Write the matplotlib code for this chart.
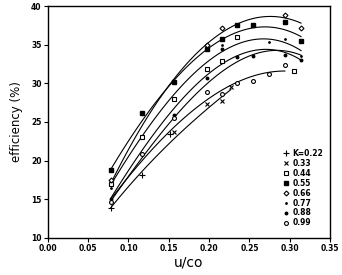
import numpy as np
import matplotlib
matplotlib.use("Agg")
import matplotlib.pyplot as plt

plt.rcParams['font.family'] = ['Liberation Sans Narrow', 'DejaVu Sans']

# measured points per K value (u/co, efficiency %)
x022 = [0.078, 0.117, 0.151]
y022 = [13.9, 18.1, 23.4]
x033 = [0.157, 0.197, 0.216, 0.227]
y033 = [23.7, 27.3, 27.7, 29.5]
x044 = [0.078, 0.117, 0.157, 0.197, 0.216, 0.235, 0.305]
y044 = [17.0, 23.0, 28.0, 31.9, 32.9, 36.0, 31.6]
x055 = [0.078, 0.117, 0.157, 0.197, 0.216, 0.235, 0.255, 0.294, 0.314]
y055 = [18.8, 26.2, 30.2, 34.4, 35.8, 37.5, 37.6, 38.0, 35.5]
x066 = [0.078, 0.197, 0.216, 0.294, 0.314]
y066 = [17.5, 35.0, 37.1, 38.8, 37.1]
x077 = [0.078, 0.216, 0.274, 0.294, 0.314]
y077 = [16.5, 35.0, 35.4, 35.7, 33.6]
x088 = [0.078, 0.157, 0.197, 0.216, 0.235, 0.255, 0.294, 0.314]
y088 = [15.0, 25.9, 30.7, 34.4, 33.4, 33.5, 33.7, 33.0]
x099 = [0.078, 0.117, 0.157, 0.197, 0.216, 0.235, 0.255, 0.274, 0.294]
y099 = [14.6, 20.8, 25.5, 28.9, 28.6, 30.0, 30.3, 31.2, 32.4]

# fitted curves, read as sample points along each line
cx1 = [0.078, 0.117, 0.157, 0.197, 0.235, 0.274, 0.314]
cy1 = [17.0, 24.6, 30.6, 35.0, 37.8, 38.6, 37.8]   # top
cy2 = [18.8, 25.3, 30.4, 34.3, 36.6, 37.4, 36.0]
cy3 = [16.8, 23.3, 28.6, 32.6, 35.1, 35.8, 34.2]
cy4 = [15.1, 21.4, 26.8, 31.0, 33.6, 34.4, 33.0]
cy5 = [14.7, 20.5, 25.6, 29.8, 32.8, 34.3, 33.6]
cx6 = [0.078, 0.117, 0.157, 0.197, 0.235, 0.274, 0.294]
cy6 = [15.0, 20.0, 24.4, 27.8, 30.2, 31.4, 31.6]
cx7 = [0.078, 0.117, 0.157, 0.197, 0.227]
cy7 = [13.9, 18.6, 22.9, 26.6, 29.2]

legend_labels = ['K=0.22', '0.33', '0.44', '0.55', '0.66', '0.77', '0.88', '0.99']

fig = plt.figure(figsize=(3.42, 2.75), dpi=100)
ax = fig.add_axes([0.140, 0.135, 0.825, 0.843])

for cx, cy in [(cx1, cy1), (cx1, cy2), (cx1, cy3), (cx1, cy4), (cx1, cy5), (cx6, cy6), (cx7, cy7)]:
    p = np.polyfit(cx, cy, 3)
    xs = np.linspace(cx[0], cx[-1], 100)
    ax.plot(xs, np.polyval(p, xs), color='black', lw=0.8)

k = dict(color='black', linestyle='none')
h = []
h += ax.plot(x022, y022, marker='+', ms=4, mew=0.8, **k)
h += ax.plot(x033, y033, marker='x', ms=3, mew=0.8, **k)
h += ax.plot(x044, y044, marker='s', ms=3.5, mfc='white', mew=0.8, **k)
h += ax.plot(x055, y055, marker='s', ms=3.5, **k)
h += ax.plot(x066, y066, marker='D', ms=2.5, mfc='white', mew=0.8, **k)
h += ax.plot(x077, y077, marker='.', ms=2, **k)
h += ax.plot(x088, y088, marker='o', ms=1.8, **k)
h += ax.plot(x099, y099, marker='o', ms=2.8, mfc='white', mew=0.8, **k)

ax.set_xlim(0, 0.35)
ax.set_ylim(10, 40)
ax.set_xticks(np.arange(0, 0.351, 0.05))
ax.set_xticklabels(['%.2f' % v for v in np.arange(0, 0.351, 0.05)], fontweight='bold')
ax.set_yticks(range(10, 41, 5))
ax.set_yticklabels([str(v) for v in range(10, 41, 5)], fontweight='bold')
ax.tick_params(labelsize=5.5, length=3, width=0.8, direction='out', pad=1.5)
for s in ax.spines.values():
    s.set_linewidth(1.0)

ax.set_xlabel('u/co', fontsize=10, labelpad=2)
ax.set_ylabel('efficiency (%)', fontsize=8.5, labelpad=6)

leg = ax.legend(h, legend_labels, loc='upper left', bbox_to_anchor=(0.82, 0.40),
                frameon=False, handlelength=0.8, handletextpad=0.4,
                labelspacing=0.12, borderpad=0,
                prop={'weight': 'bold', 'size': 5.5})

fig.savefig('out.png', dpi=100)
